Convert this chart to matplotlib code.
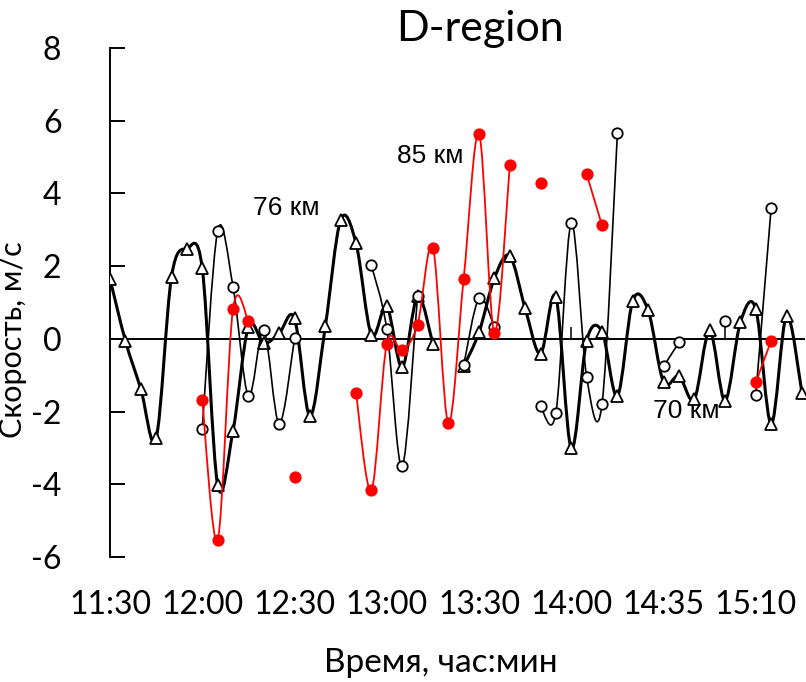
import numpy as np
import matplotlib
matplotlib.use("Agg")
import matplotlib.pyplot as plt
from matplotlib.path import Path
from matplotlib.patches import PathPatch

plt.rcParams["axes.unicode_minus"] = False

# --------------------------------------------------------
# Wind speed per 5-minute slot (m/s), None = no measurement
# --------------------------------------------------------
h76 = [1.65, -0.05, -1.37, -2.74, 1.71, 2.48, 1.94, -4.02, -2.53, 0.33,
       -0.12, 0.15, 0.56, -2.12, 0.34, 3.27, 2.63, 0.11, 0.89, -0.78,
       1.17, -0.14, None, -0.76, 0.18, 1.67, 2.28, 0.84, -0.41, 1.15,
       -3.01, -0.05, 0.20, -1.57, 1.05, 0.78, -1.19, -1.02, -1.66, 0.23,
       -1.70, 0.46, 0.82, -2.34, 0.63, -1.48]

h70 = [None, None, None, None, None, None, -2.48, 2.97, 1.44, -1.57,
       0.23, -2.33, 0.01, None, None, None, None, 2.02, 0.27, -3.51,
       1.19, None, None, -0.73, 1.12, 0.32, None, None, -1.86, -2.03,
       3.18, -1.05, -1.79, 5.67, None, None, -0.76, -0.10, None, None,
       0.48, None, -1.54, 3.61, None, None]

h85 = [None, None, None, None, None, None, -1.68, -5.53, 0.82, 0.48,
       None, None, -3.79, None, None, None, -1.49, -4.17, -0.14, -0.32,
       0.39, 2.51, -2.31, 1.65, 5.64, 0.16, 4.77, None, 4.30, None,
       None, 4.53, 3.12, None, None, None, None, None, None, None,
       None, None, -1.20, -0.05, None, None]

# short vertical stems rising from the zero line
stem_idx = [30, 40]
stem_top = [0.32, 0.48]

tick_idx = [0, 6, 12, 18, 24, 30, 36, 42]
tick_labels = ["11:30", "12:00", "12:30", "13:00", "13:30", "14:00", "14:35", "15:10"]

LABEL_FONT = ["Lato", "DejaVu Sans"]


def runs(values):
    # split a series into continuous pieces (gaps are None)
    out, cur = [], []
    for i, v in enumerate(values):
        if v is None:
            if cur:
                out.append(cur)
            cur = []
        else:
            cur.append((i, v))
    if cur:
        out.append(cur)
    return out


def smooth_path(pts):
    # spreadsheet-style smoothed line: cubic bezier through every point
    x = [p[0] for p in pts]
    y = [p[1] for p in pts]
    n = len(pts)
    verts = [(x[0], y[0])]
    codes = [Path.MOVETO]
    for i in range(n - 1):
        a = i - 1 if i > 0 else i
        b = i + 2 if i + 2 < n else i + 1
        c1 = (x[i] + (x[i + 1] - x[a]) / 6, y[i] + (y[i + 1] - y[a]) / 6)
        c2 = (x[i + 1] - (x[b] - x[i]) / 6, y[i + 1] - (y[b] - y[i]) / 6)
        verts += [c1, c2, (x[i + 1], y[i + 1])]
        codes += [Path.CURVE4] * 3
    return Path(verts, codes)


def draw_series(ax, values, color, lw, marker, ms, mfc, z):
    for piece in runs(values):
        if len(piece) > 1:
            ax.add_patch(PathPatch(smooth_path(piece), fill=False, edgecolor=color,
                                   lw=lw, zorder=z, capstyle="round", joinstyle="round"))
        xs = [p[0] for p in piece]
        ys = [p[1] for p in piece]
        ax.plot(xs, ys, linestyle="none", marker=marker, ms=ms, mfc=mfc,
                mec=color, mew=1.3, zorder=z + 0.5)


fig = plt.figure(figsize=(8.06, 6.82), dpi=100)
ax = fig.add_axes([110 / 806, 1 - 557 / 682, 695 / 806, 509 / 682])

ax.vlines(stem_idx, 0, stem_top, color="black", lw=1.1, zorder=2)
draw_series(ax, h76, "black", 2.2, "^", 8.5, "white", 3)
draw_series(ax, h70, "black", 1.2, "o", 7.5, "white", 4)
draw_series(ax, h85, "red", 1.3, "o", 7.5, "red", 5)

ax.axhline(0, color="black", lw=1.4, zorder=1)

ax.set_xlim(0, 45.2)
ax.set_ylim(-6, 8)
ax.set_yticks(range(-6, 9, 2))
ax.set_xticks(tick_idx)
ax.set_xticklabels(tick_labels)

for s in ["top", "right", "bottom"]:
    ax.spines[s].set_visible(False)
ax.spines["left"].set_linewidth(1.4)
ax.tick_params(axis="y", direction="in", length=11, width=1.4, pad=35)
ax.tick_params(axis="x", length=0, pad=24)
for lab in ax.get_xticklabels() + ax.get_yticklabels():
    lab.set_family(LABEL_FONT)
    lab.set_fontsize(23)

ax.set_title("D-region", family=LABEL_FONT, fontsize=31, pad=2, x=0.532)
ax.set_ylabel("Скорость, м/с", family=LABEL_FONT, fontsize=22)
ax.yaxis.set_label_coords(-0.12, 0.426)
ax.set_xlabel("Время, час:мин", family=LABEL_FONT, fontsize=24)
ax.xaxis.set_label_coords(0.476, -0.179)

ann = dict(family=["Liberation Sans", "DejaVu Sans"], fontsize=19, ha="center", va="center")
ax.text(11.44, 3.6, "76 км", **ann)
ax.text(20.8, 5.02, "85 км", **ann)
ax.text(37.45, -1.98, "70 км", **ann)

fig.savefig("out.png", dpi=100)
